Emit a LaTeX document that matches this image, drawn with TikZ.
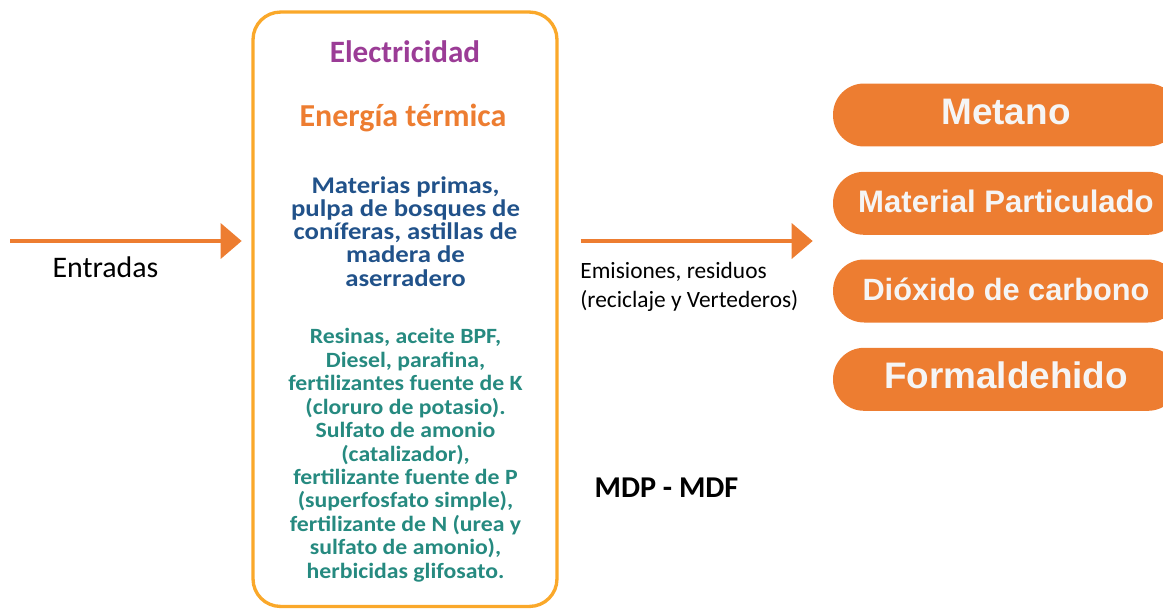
\documentclass[tikz,border=0pt]{standalone}
\usepackage{fontspec}
\setmainfont{Carlito}
\newfontfamily\pillfont{Liberation Sans}
\newfontfamily\matfont[FakeStretch=1.12]{Carlito}
\newfontfamily\insfont[FakeStretch=1.09]{Carlito}
\usetikzlibrary{positioning, arrows.meta}
\definecolor{flowOrange}{RGB}{237,125,49}
\definecolor{boxYellow}{RGB}{250,168,42}
\definecolor{elecPurple}{RGB}{155,60,150}
\definecolor{matBlue}{RGB}{33,82,138}
\definecolor{insTeal}{RGB}{38,138,128}
\definecolor{pillText}{RGB}{245,245,245}
\tikzstyle{Arrow} = [
%orange flow arrow
flowOrange, line width=2.2pt,
-{Triangle[length=4.2mm, width=7mm]}
]

\begin{document}
\begin{tikzpicture}[
				x=0.02cm, y=-0.02cm,
				label/.style = {inner sep=0pt, anchor=base},
				block/.style = {inner sep=0pt, align=center},
				pill/.style = {rectangle, rounded corners=6.2mm, fill=flowOrange, text=pillText, minimum width=69.2mm, minimum height=12.6mm, inner sep=0pt, text height=13pt, text depth=2pt, font=\pillfont\bfseries},
			]
			\useasboundingbox (0,0) rectangle (1163,609);

			% process box
			\node[draw=boxYellow, line width=1.9pt, rounded corners=5.5mm, minimum width=60.8mm, minimum height=118.9mm](proc) at (405,309.25){};

			\node[label, text=elecPurple, font=\fontsize{17.7}{20}\selectfont\bfseries](elec) at (405,62){Electricidad};
			\node[label, text=flowOrange, font=\fontsize{18.2}{20}\selectfont\bfseries](term) at (403,126){Energía térmica};
			\node[block, text=matBlue, font=\matfont\fontsize{13.6}{13.2}\selectfont\bfseries](mat) at (405.5,231.5){Materias primas,\\pulpa de bosques de\\coníferas, astillas de\\madera de\\aserradero};
			\node[block, text=insTeal, font=\insfont\fontsize{12.4}{13.36}\selectfont\bfseries](ins) at (405.5,455.2){Resinas, aceite BPF,\\Diesel, parafina,\\fertilizantes fuente de K\\(cloruro de potasio).\\Sulfato de amonio\\(catalizador),\\fertilizante fuente de P\\(superfosfato simple),\\fertilizante de N (urea y\\sulfato de amonio),\\herbicidas glifosato.};

			% flows
			\coordinate(inStart) at (10,241);
			\coordinate(outEnd) at (812.7,241);
			\draw[Arrow, shorten >=1.94mm](inStart)--(proc.west |- inStart);
			\draw[Arrow, shorten <=4.4mm](proc.east |- outEnd)--(outEnd);

			\node[label, font=\fontsize{17}{20}\selectfont](inLbl) at (105.5,277){Entradas};
			\node[block, align=left, anchor=west, font=\fontsize{13.3}{16.3}\selectfont](outLbl) at (580,286.8){Emisiones, residuos\\(reciclaje y Vertederos)};
			\node[label, font=\fontsize{17.2}{20}\selectfont\bfseries](prod) at (666.5,497){MDP - MDF};

			% emissions
			\node[pill, font=\pillfont\bfseries\fontsize{21}{24}\selectfont](metano) at (1006,115){Metano};
			\node[pill, font=\pillfont\bfseries\fontsize{17.7}{20}\selectfont](partic) at (1006,203.3){Material Particulado};
			\node[pill, font=\pillfont\bfseries\fontsize{17.5}{20}\selectfont](dioxido) at (1006,291){Dióxido de carbono};
			\node[pill, font=\pillfont\bfseries\fontsize{21}{24}\selectfont](formal) at (1006,379.3){Formaldehido};

		\end{tikzpicture}
\end{document}
